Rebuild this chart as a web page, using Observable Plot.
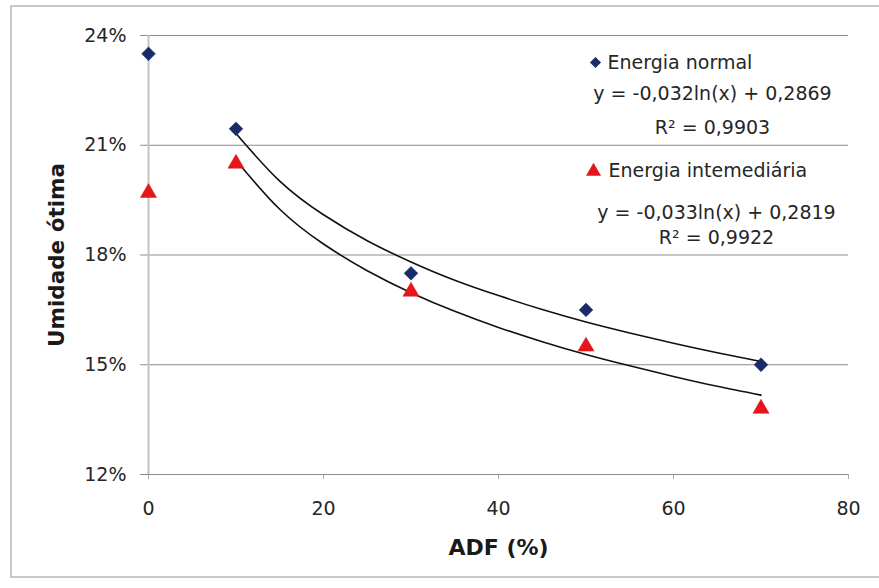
<!DOCTYPE html>
<html><head><meta charset="utf-8">
<script src="https://cdn.jsdelivr.net/npm/d3@7"></script>
<script src="https://cdn.jsdelivr.net/npm/@observablehq/plot@0.6"></script>
<style>
html,body{margin:0;padding:0;background:#fff;overflow:hidden}
#wrap{position:relative;width:879px;height:588px}
#wrap svg{position:absolute;left:0;top:0}
#border{position:absolute;left:10px;top:5px;width:900px;height:569px;border:2px solid #c8c8c8;pointer-events:none}
</style></head><body><div id="wrap"></div>
<script>
// Data
const adf = [0, 10, 30, 50, 70];
const energiaNormal = [0.235, 0.2145, 0.175, 0.165, 0.150];
const energiaIntermediaria = [0.197, 0.205, 0.170, 0.155, 0.138];
// Trend curves
const trendX = [10, 15, 20, 25, 30, 35, 40, 45, 50, 55, 60, 65, 70];
const trendNormal = [0.2132, 0.2002, 0.1910, 0.1839, 0.1781, 0.1731, 0.1689, 0.1651, 0.1617, 0.1587, 0.1559, 0.1533, 0.1509];
const trendIntermediaria = [0.2059, 0.1925, 0.1830, 0.1757, 0.1697, 0.1646, 0.1602, 0.1563, 0.1528, 0.1497, 0.1468, 0.1441, 0.1417];
const yTicks = [0.12, 0.15, 0.18, 0.21, 0.24];
const xTicks = [0, 20, 40, 60, 80];
const seriesNames = ["Energia normal", "Energia intemediária"];
const equations = ["y = -0,032ln(x) + 0,2869", "y = -0,033ln(x) + 0,2819"];
const r2Labels = ["R² = 0,9903", "R² = 0,9922"];
const xTitle = "ADF (%)";
const yTitle = "Umidade ótima";

const navy = "#1b2a6b";
const red = "#e3171b";
const grid = "#8c8c8c";
const font = "DejaVu Sans";

const pts = (ys) => adf.map((x, i) => ({x, y: ys[i]}));
const trend = (ys) => trendX.map((x, i) => ({x, y: ys[i]}));
const label = (t, dx, dy, anchor = "middle", extra = {}) =>
  Plot.text([t], {text: d => d, frameAnchor: "top-left", dx, dy, textAnchor: anchor, lineAnchor: "middle", fontSize: 19, fill: "#262626", ...extra});

const chart = Plot.plot({
  width: 879,
  height: 588,
  marginLeft: 148,
  marginRight: 31,
  marginTop: 35,
  marginBottom: 114,
  style: {fontFamily: font, fontSize: "19px", background: "transparent", color: "#262626"},
  x: {domain: [0, 80]},
  y: {domain: [0.12, 0.24]},
  marks: [
    Plot.gridY(yTicks, {stroke: grid, strokeOpacity: 1, strokeWidth: 1}),
    Plot.axisY({ticks: yTicks, tickFormat: d3.format(".0%"), tickSize: 8, tickPadding: 14, stroke: grid, fill: "#262626", fontSize: 19, label: null}),
    Plot.axisX({ticks: xTicks, tickSize: 5, tickPadding: 22, stroke: "#aaaaaa", fill: "#262626", fontSize: 19, label: null}),
    Plot.ruleX([0], {stroke: "#c3c3c3", strokeWidth: 2}),
    Plot.ruleY([0.12], {stroke: grid, strokeWidth: 1}),
    Plot.line(trend(trendNormal), {x: "x", y: "y", stroke: "#111", strokeWidth: 1.6, curve: "natural"}),
    Plot.line(trend(trendIntermediaria), {x: "x", y: "y", stroke: "#111", strokeWidth: 1.6, curve: "natural"}),
    Plot.dot(pts(energiaNormal), {x: "x", y: "y", symbol: "diamond2", r: 6.2, fill: navy, stroke: navy, strokeWidth: 0.5}),
    Plot.dot(pts(energiaIntermediaria), {x: "x", y: "y", symbol: "triangle", r: 6, fill: red, stroke: red, strokeWidth: 0.5}),
    // axis titles
    Plot.text([xTitle], {text: d => d, frameAnchor: "bottom", dy: 73, textAnchor: "middle", lineAnchor: "middle", fontSize: 22, fontWeight: "bold", fill: "#1a1a1a"}),
    Plot.text([yTitle], {text: d => d, frameAnchor: "left", dx: -91, rotate: -90, textAnchor: "middle", lineAnchor: "middle", fontSize: 21.5, fontWeight: "bold", fill: "#1a1a1a"}),
    // legend
    Plot.dot([0], {frameAnchor: "top-left", dx: 447, dy: 27, symbol: "diamond2", r: 5, fill: navy}),
    label(seriesNames[0], 459, 27, "start"),
    label(equations[0], 564, 58),
    label(r2Labels[0], 564, 92),
    Plot.dot([0], {frameAnchor: "top-left", dx: 445, dy: 136, symbol: "triangle", r: 5.6, fill: red}),
    label(seriesNames[1], 460, 135, "start"),
    label(equations[1], 568, 177),
    label(r2Labels[1], 568, 202)
  ]
});
const wrap = document.getElementById("wrap");
wrap.appendChild(chart);
const border = document.createElement("div");
border.id = "border";
wrap.appendChild(border);
</script>
</body></html>
